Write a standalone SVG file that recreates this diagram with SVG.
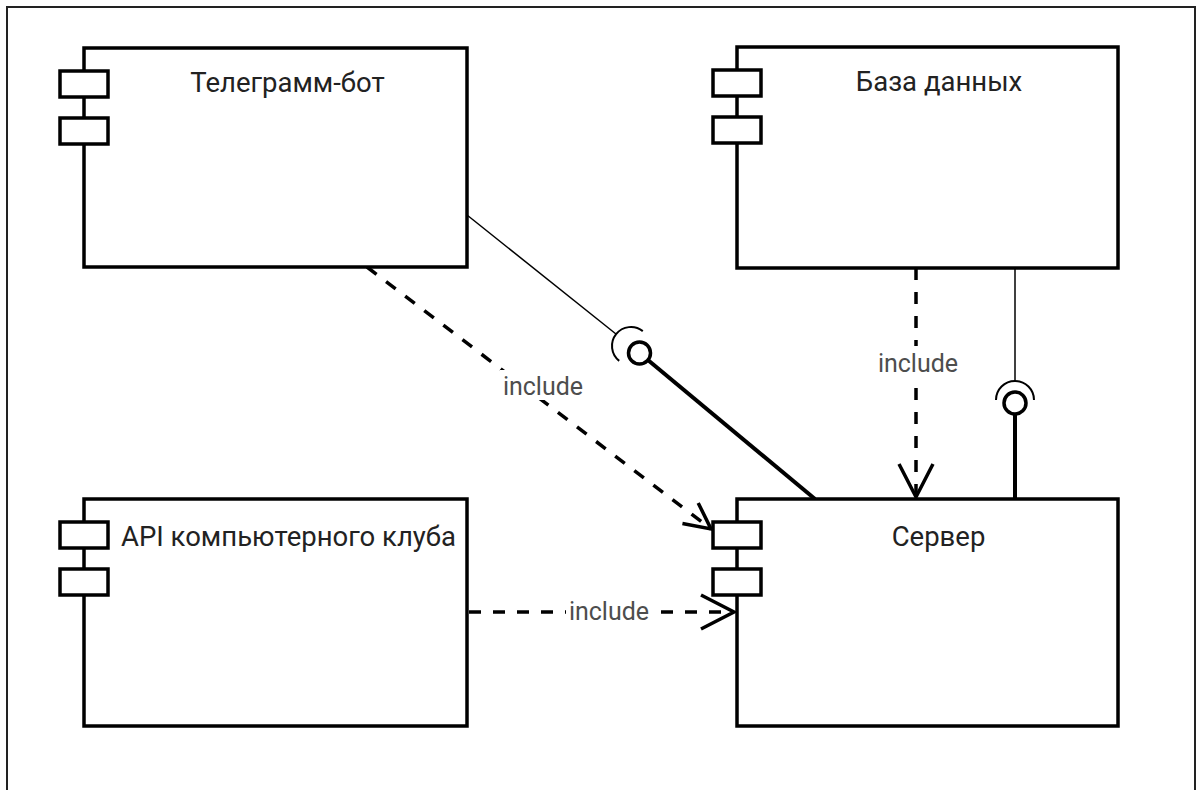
<svg xmlns="http://www.w3.org/2000/svg" width="1198" height="790" viewBox="0 0 1198 790">
  <defs>
    <style>
      .box { fill: #ffffff; stroke: #000000; stroke-width: 3.5; }
      .port { fill: #ffffff; stroke: #000000; stroke-width: 3.5; }
      .title { font-family: Roboto, "Noto Sans", "Liberation Sans", sans-serif; font-size: 27.5px; fill: #222222; text-anchor: middle; }
      .lbl { font-family: Roboto, "Noto Sans", "Liberation Sans", sans-serif; font-size: 25px; fill: #4d4d4d; text-anchor: middle; }
      .dash { fill: none; stroke: #000000; stroke-width: 3.5; stroke-dasharray: 12 12; }
      .thin { fill: none; stroke: #000000; stroke-width: 1.5; }
      .thick { fill: none; stroke: #000000; stroke-width: 4; }
      .ball { fill: #ffffff; stroke: #000000; stroke-width: 3.5; }
      .sock { fill: none; stroke: #000000; stroke-width: 2; }
      .lblbg { fill: #ffffff; stroke: none; }
    </style>
    <marker id="open" markerUnits="userSpaceOnUse" markerWidth="50" markerHeight="50" refX="0" refY="0" orient="auto" overflow="visible">
      <path d="M-33,-17 L0,0 L-33,17" fill="none" stroke="#000000" stroke-width="3.5"/>
    </marker>
    <marker id="openSmall" markerUnits="userSpaceOnUse" markerWidth="50" markerHeight="50" refX="0" refY="0" orient="auto" overflow="visible">
      <path d="M-26,-13 L0,0 L-26,13" fill="none" stroke="#000000" stroke-width="3.5"/>
    </marker>
  </defs>

  <rect x="0" y="0" width="1198" height="790" fill="#ffffff"/>
  <path d="M7,800 V7 H1195 V800" fill="none" stroke="#222222" stroke-width="2"/>

  <g id="connectors">
    <!-- Telegram -> Server include -->
    <path class="dash" d="M367,267 L711,529" marker-end="url(#openSmall)"/>
    <rect class="lblbg" x="500" y="370" width="86" height="30"/>
    <text class="lbl" x="543" y="395">include</text>

    <!-- DB -> Server include -->
    <path class="dash" d="M916,268 L916,497" marker-end="url(#open)"/>
    <rect class="lblbg" x="874" y="346" width="86" height="32"/>
    <text class="lbl" x="918" y="372">include</text>

    <!-- API -> Server include -->
    <path class="dash" d="M469,612 L734,612" marker-end="url(#open)"/>
    <rect class="lblbg" x="566" y="598" width="86" height="28"/>
    <text class="lbl" x="609" y="620">include</text>

    <!-- Telegram socket / Server ball -->
    <path class="thin" d="M467,215 L616,334"/>
    <path class="sock" d="M642.8,331.1 A19,19 0 0 0 619.2,360.9"/>
    <path class="thick" d="M639.5,353 L815,499"/>
    <circle class="ball" cx="639.5" cy="353" r="11"/>

    <!-- DB socket / Server ball -->
    <path class="thin" d="M1015,268 L1015,382"/>
    <path class="sock" d="M996,400 A19,19 0 0 1 1034,400"/>
    <path class="thick" d="M1015,403 L1015,499"/>
    <circle class="ball" cx="1015" cy="403" r="11"/>
  </g>

  <g id="telegram-bot">
    <rect class="box" x="84" y="48" width="383" height="219"/>
    <rect class="port" x="60" y="71" width="48" height="26"/>
    <rect class="port" x="60" y="118" width="48" height="26"/>
    <text class="title" x="287.5" y="92">Телеграмм-бот</text>
  </g>

  <g id="database">
    <rect class="box" x="737" y="47" width="381" height="221"/>
    <rect class="port" x="713" y="70" width="48" height="26"/>
    <rect class="port" x="713" y="117" width="48" height="26"/>
    <text class="title" x="939" y="91">База данных</text>
  </g>

  <g id="api">
    <rect class="box" x="84" y="499" width="383" height="227"/>
    <rect class="port" x="60" y="522" width="48" height="26"/>
    <rect class="port" x="60" y="569" width="48" height="26"/>
    <text class="title" x="288.5" y="546">API компьютерного клуба</text>
  </g>

  <g id="server">
    <rect class="box" x="737" y="499" width="381" height="227"/>
    <rect class="port" x="713" y="522" width="48" height="26"/>
    <rect class="port" x="713" y="569" width="48" height="26"/>
    <text class="title" x="938.5" y="546">Сервер</text>
  </g>
</svg>
